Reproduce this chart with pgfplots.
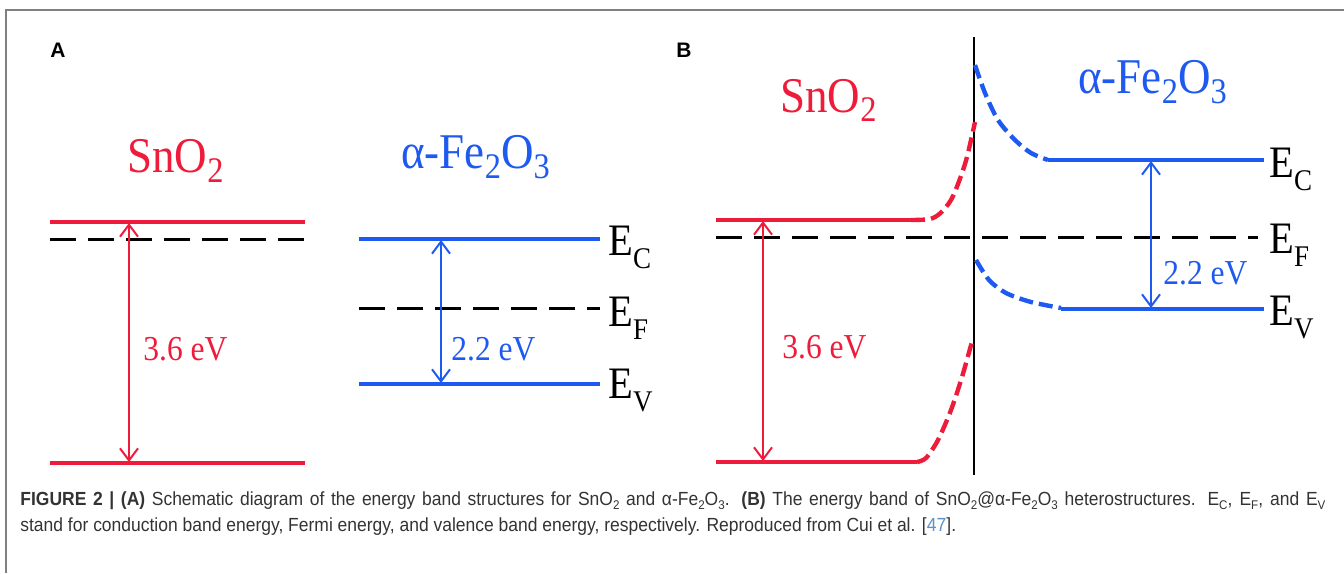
\documentclass[border=0pt]{standalone}
\usepackage{fontspec}
\setmainfont{Liberation Serif}[FakeStretch=0.9]
\newfontfamily\capfont{Liberation Sans}[FakeStretch=0.92]
\newfontfamily\lblfont{Liberation Sans}
\usepackage{graphicx}
\usepackage{pgfplots}
\pgfplotsset{compat=1.18}
\usetikzlibrary{arrows.meta}
\definecolor{bred}{RGB}{238,28,58}
\definecolor{bblue}{RGB}{30,90,240}
\definecolor{capgray}{RGB}{51,51,51}
\definecolor{linkblue}{RGB}{90,145,200}
\newcommand{\tsub}[1]{\raisebox{-5pt}{\fontsize{18}{18}\selectfont #1}}
\newcommand{\esub}[1]{\raisebox{-6.5pt}{\fontsize{15}{15}\selectfont #1}}
\newcommand{\csub}[1]{\raisebox{-2pt}{\fontsize{6.3}{6.3}\selectfont #1}}
\begin{document}
\begin{tikzpicture}
\begin{axis}[scale only axis, width=672pt, height=286.5pt,
  xmin=0, xmax=1344, ymin=0, ymax=573, y dir=reverse,
  hide axis, clip=false]
% frame
\addplot[gray, line width=0.8pt] coordinates {(6,573) (6,10) (1344,10)};
% ---------------- Panel A ----------------
\addplot[bred, line width=2.2pt] coordinates {(50,222) (305,222)};
\addplot[bred, line width=2.2pt] coordinates {(50,463) (305,463)};
\addplot[black, line width=1.5pt, dash pattern=on 13pt off 6pt] coordinates {(50,239) (305,239)};
\addplot[bred, line width=1pt, arrows={Straight Barb[length=6pt,width=9pt]-Straight Barb[length=6pt,width=9pt]}] coordinates {(129,223) (129,462)};
\addplot[bblue, line width=2.2pt] coordinates {(359,239) (600,239)};
\addplot[bblue, line width=2.2pt] coordinates {(359,384) (600,384)};
\addplot[black, line width=1.5pt, dash pattern=on 13pt off 6pt] coordinates {(359,308) (600,308)};
\addplot[bblue, line width=1pt, arrows={Straight Barb[length=6pt,width=9pt]-Straight Barb[length=6pt,width=9pt]}] coordinates {(441,240) (441,383)};
% ---------------- Panel B ----------------
\addplot[black, line width=1.4pt] coordinates {(974,37) (974,475)};
\addplot[bred, line width=2.2pt] coordinates {(716,220) (911,220)};
\addplot[bred, line width=2.2pt, dash pattern=on 7pt off 3pt, smooth] coordinates {(911,220) (930,219) (940.5,213) (951,200) (959.5,180) (967,157) (975,122)};
\addplot[bred, line width=2.2pt] coordinates {(716,462) (917,462)};
\addplot[bred, line width=2.2pt, dash pattern=on 7pt off 3pt, smooth] coordinates {(917,462) (926,458) (938,440) (951,410) (962,377) (973,338)};
\addplot[black, line width=1.5pt, dash pattern=on 13pt off 6pt] coordinates {(716,237) (1258,237)};
\addplot[bblue, line width=2.2pt, dash pattern=on 7pt off 3pt, smooth] coordinates {(975,65) (985,93) (998,120) (1015,140) (1031,153) (1048,160)};
\addplot[bblue, line width=2.2pt] coordinates {(1048,160) (1264,160)};
\addplot[bblue, line width=2.2pt, dash pattern=on 7pt off 3pt, smooth] coordinates {(976,260) (989,280) (1006,293) (1031,302) (1061,308)};
\addplot[bblue, line width=2.2pt] coordinates {(1061,309) (1264,309)};
\addplot[bred, line width=1pt, arrows={Straight Barb[length=6pt,width=9pt]-Straight Barb[length=6pt,width=9pt]}] coordinates {(763,221) (763,461)};
\addplot[bblue, line width=1pt, arrows={Straight Barb[length=6pt,width=9pt]-Straight Barb[length=6pt,width=9pt]}] coordinates {(1151,161) (1151,308)};
% ---------------- Texts ----------------
\node[anchor=base west, inner sep=0, font=\lblfont\bfseries\fontsize{10.5}{10.5}\selectfont] at (axis cs:50,57) {A};
\node[anchor=base west, inner sep=0, font=\lblfont\bfseries\fontsize{10.5}{10.5}\selectfont] at (axis cs:676,57) {B};
\node[anchor=base west, inner sep=0, text=bred, font=\fontsize{25}{25}\selectfont] at (axis cs:127,172) {SnO\tsub{2}};
\node[anchor=base west, inner sep=0, text=bblue, font=\fontsize{25}{25}\selectfont] at (axis cs:401,168) {α-Fe\tsub{2}O\tsub{3}};
\node[anchor=base west, inner sep=0, text=bred, font=\fontsize{25}{25}\selectfont] at (axis cs:780,112) {SnO\tsub{2}};
\node[anchor=base west, inner sep=0, text=bblue, font=\fontsize{25}{25}\selectfont] at (axis cs:1078,93) {α-Fe\tsub{2}O\tsub{3}};
\node[anchor=base west, inner sep=0, text=bred, font=\fontsize{17.5}{17.5}\selectfont] at (axis cs:143,360) {3.6 eV};
\node[anchor=base west, inner sep=0, text=bblue, font=\fontsize{17.5}{17.5}\selectfont] at (axis cs:451,360) {2.2 eV};
\node[anchor=base west, inner sep=0, text=bred, font=\fontsize{17.5}{17.5}\selectfont] at (axis cs:782,358) {3.6 eV};
\node[anchor=base west, inner sep=0, text=bblue, font=\fontsize{17.5}{17.5}\selectfont] at (axis cs:1163,284) {2.2 eV};
\node[anchor=base west, inner sep=0, font=\fontsize{22.5}{22.5}\selectfont] at (axis cs:608,255) {E\esub{C}};
\node[anchor=base west, inner sep=0, font=\fontsize{22.5}{22.5}\selectfont] at (axis cs:608,326) {E\esub{F}};
\node[anchor=base west, inner sep=0, font=\fontsize{22.5}{22.5}\selectfont] at (axis cs:608,398) {E\esub{V}};
\node[anchor=base west, inner sep=0, font=\fontsize{22.5}{22.5}\selectfont] at (axis cs:1269,177) {E\esub{C}};
\node[anchor=base west, inner sep=0, font=\fontsize{22.5}{22.5}\selectfont] at (axis cs:1269,253) {E\esub{F}};
\node[anchor=base west, inner sep=0, font=\fontsize{22.5}{22.5}\selectfont] at (axis cs:1269,325) {E\esub{V}};
% caption
\node[anchor=base west, inner sep=0, text=capgray, font=\capfont\fontsize{9.5}{9.5}\selectfont] at (axis cs:20,505) {\makebox[652.5pt][s]{\textbf{FIGURE 2 | (A)} Schematic diagram of the energy band structures for SnO\csub{2} and α-Fe\csub{2}O\csub{3}. \textbf{(B)} The energy band of SnO\csub{2}@α-Fe\csub{2}O\csub{3} heterostructures. E\csub{C}, E\csub{F}, and E\csub{V}}};
\node[anchor=base west, inner sep=0, text=capgray, font=\capfont\fontsize{9.5}{9.5}\selectfont] at (axis cs:20,531) {stand for conduction band energy, Fermi energy, and valence band energy, respectively. Reproduced from Cui et al. [\textcolor{linkblue}{47}].};
\end{axis}
\pgfresetboundingbox
\path (0,0) rectangle (672pt,286.5pt);
\end{tikzpicture}
\end{document}
